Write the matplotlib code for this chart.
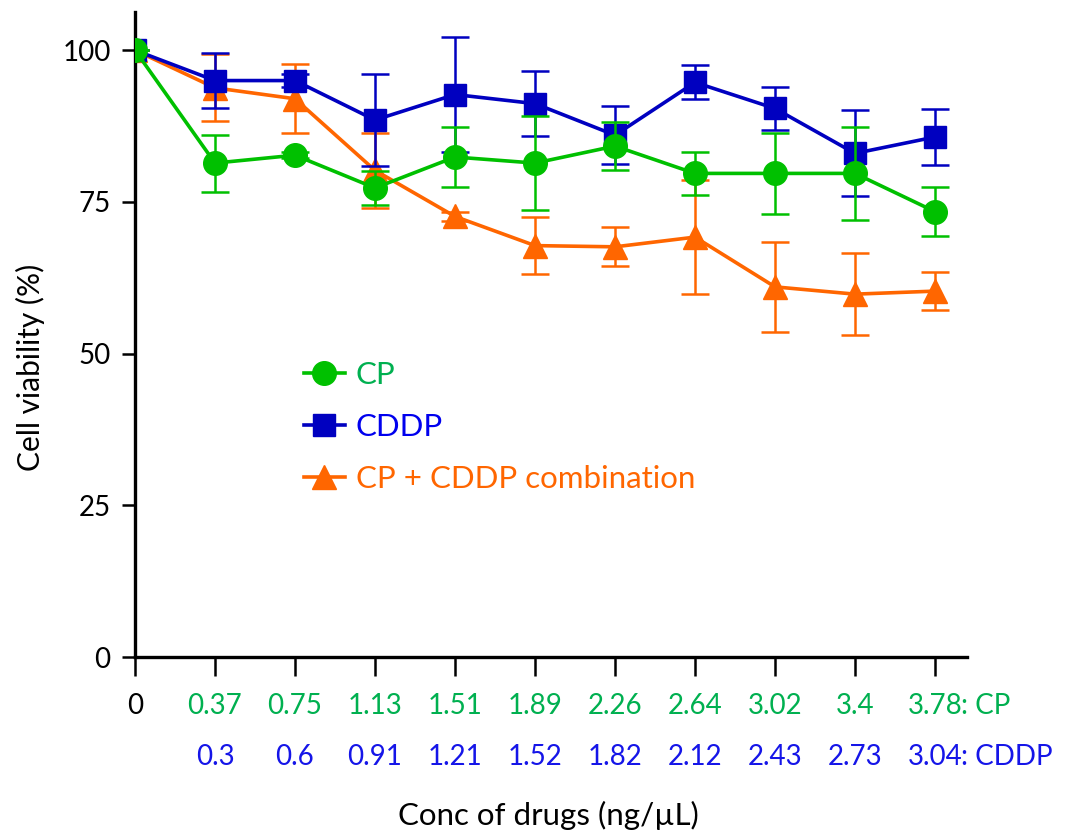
import matplotlib
matplotlib.use("Agg")
import matplotlib.pyplot as plt
from matplotlib.lines import Line2D

plt.rcParams['font.family'] = ['Lato', 'DejaVu Sans']

# ---- data ----
positions = [0, 1, 2, 3, 4, 5, 6, 7, 8, 9, 10]
cp_conc = ["0.37", "0.75", "1.13", "1.51", "1.89", "2.26", "2.64", "3.02", "3.4", "3.78"]
cddp_conc = ["0.3", "0.6", "0.91", "1.21", "1.52", "1.82", "2.12", "2.43", "2.73", "3.04"]

cp_mean = [100, 81.4, 82.7, 77.3, 82.4, 81.4, 84.2, 79.7, 79.7, 79.7, 73.4]
cp_sd = [0, 4.7, 0.5, 2.8, 4.9, 7.7, 4.0, 3.5, 6.7, 7.6, 4.0]

cddp_mean = [100, 95.0, 95.0, 88.5, 92.7, 91.2, 86.0, 94.7, 90.4, 83.0, 85.7]
cddp_sd = [0, 4.6, 1.0, 7.6, 9.4, 5.3, 4.8, 2.8, 3.5, 7.1, 4.6]

combo_mean = [100, 93.8, 92.0, 80.2, 72.6, 67.8, 67.6, 69.2, 61.0, 59.8, 60.3]
combo_sd = [0, 5.5, 5.7, 6.2, 0.8, 4.7, 3.2, 9.4, 7.4, 6.7, 3.1]

yticks = [0, 25, 50, 75, 100]

# ---- style ----
c_cp = "#00c000"
c_cddp = "#0000c0"
c_combo = "#ff6600"
c_cp_txt = "#00b050"
c_cddp_txt = "#1515e8"

fig = plt.figure(figsize=(10.81, 8.32), dpi=100)
ax = fig.add_axes([135/1081, 1-657/832, (967-135)/1081, (657-12)/832])

common = dict(linewidth=2.6, elinewidth=1.8, capsize=10, capthick=1.8)
ax.errorbar(positions, combo_mean, yerr=combo_sd, color=c_combo, marker='^',
            markersize=17, zorder=2, **common)
ax.errorbar(positions, cddp_mean, yerr=cddp_sd, color=c_cddp, marker='s',
            markersize=16, zorder=3, **common)
ax.errorbar(positions, cp_mean, yerr=cp_sd, color=c_cp, marker='o',
            markersize=17, zorder=4, **common)

ax.set_xlim(0, 10.4)
ax.set_ylim(0, 106.3)

for s in ['top', 'right']:
    ax.spines[s].set_visible(False)
for s in ['left', 'bottom']:
    ax.spines[s].set_linewidth(2.4)

ax.set_yticks(yticks)
ax.set_yticklabels([str(v) for v in yticks], fontsize=20)
ax.tick_params(axis='y', length=9.5, width=1.8, pad=8)
ax.set_xticks(positions)
ax.set_xticklabels([])
ax.tick_params(axis='x', length=14, width=1.8)

# two-row x labels
ax.annotate("0", xy=(0, 0), xycoords=('data', 'axes fraction'), xytext=(0, -35),
            textcoords='offset points', ha='center', va='center', fontsize=20, color='black')
for i, (a, b) in enumerate(zip(cp_conc, cddp_conc)):
    x = positions[i + 1]
    ax.annotate(a, xy=(x, 0), xycoords=('data', 'axes fraction'), xytext=(0, -35),
                textcoords='offset points', ha='center', va='center', fontsize=20, color=c_cp_txt)
    ax.annotate(b, xy=(x, 0), xycoords=('data', 'axes fraction'), xytext=(0, -72),
                textcoords='offset points', ha='center', va='center', fontsize=20, color=c_cddp_txt)
ax.annotate(": CP", xy=(positions[-1], 0), xycoords=('data', 'axes fraction'), xytext=(19, -35),
            textcoords='offset points', ha='left', va='center', fontsize=20, color=c_cp_txt)
ax.annotate(": CDDP", xy=(positions[-1], 0), xycoords=('data', 'axes fraction'), xytext=(19, -72),
            textcoords='offset points', ha='left', va='center', fontsize=20, color=c_cddp_txt)

fig.text(548/1081, 1-815/832, "Conc of drugs (ng/µL)", ha='center', va='center', fontsize=22.5)
fig.text(30/1081, 1-367/832, "Cell viability (%)", ha='center', va='center', rotation=90, fontsize=21.5)

handles = [
    Line2D([], [], color=c_cp, marker='o', markersize=17, linewidth=2.6),
    Line2D([], [], color=c_cddp, marker='s', markersize=16, linewidth=2.6),
    Line2D([], [], color=c_combo, marker='^', markersize=17, linewidth=2.6),
]
labels = ["CP", "CDDP", "CP + CDDP combination"]
leg = ax.legend(handles, labels,
                loc='upper left', bbox_to_anchor=((304-135)/832, (657-361)/645),
                frameon=False, fontsize=22.5, handlelength=1.3, handletextpad=0.35,
                labelspacing=0.77, borderaxespad=0, borderpad=0)
for t, c in zip(leg.get_texts(), [c_cp_txt, "#0000ee", c_combo]):
    t.set_color(c)

fig.savefig("out.png", dpi=100)
